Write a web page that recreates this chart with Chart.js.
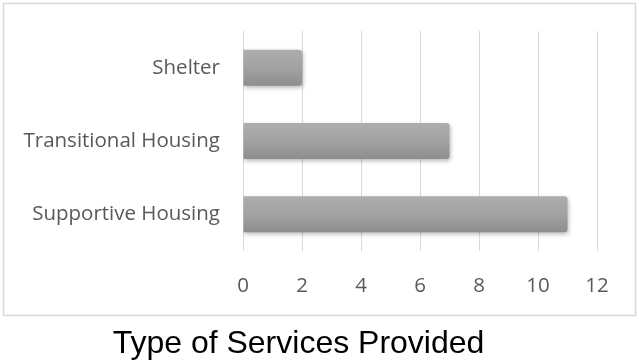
<!DOCTYPE html>
<html>
<head>
<meta charset="utf-8">
<title>Type of Services Provided</title>
<script src="https://cdn.jsdelivr.net/npm/chart.js@4.4.1/dist/chart.umd.min.js"></script>
<style>
  html, body { margin: 0; padding: 0; background: #fff; }
  #wrap { position: relative; width: 639px; height: 362px; }
</style>
</head>
<body>
<div id="wrap"><canvas id="servicesChart" width="639" height="362"></canvas></div>
<script>
// Services data
const categories = ['Shelter', 'Transitional Housing', 'Supportive Housing'];
const counts = [2, 7, 11];
const xTicks = [0, 2, 4, 6, 8, 10, 12];

// Frame around the plot (the title sits below it)
const framePlugin = {
    id: 'frame',
    beforeDraw(chart) {
        const ctx = chart.ctx;
        ctx.save();
        ctx.strokeStyle = '#d9d9d9';
        ctx.lineWidth = 1.5;
        ctx.strokeRect(3.5, 3.5, 632, 312);
        ctx.restore();
    }
};

// Soft drop shadow under the bars
const shadowPlugin = {
    id: 'barShadow',
    beforeDatasetsDraw(chart) {
        const ctx = chart.ctx;
        ctx.save();
        ctx.shadowColor = 'rgba(0,0,0,0.28)';
        ctx.shadowBlur = 4;
        ctx.shadowOffsetX = 1;
        ctx.shadowOffsetY = 2;
    },
    afterDatasetsDraw(chart) {
        chart.ctx.restore();
    }
};

// Vertical grey gradient across each bar
function barGradient(context) {
    const chart = context.chart;
    const yScale = chart.scales.y;
    if (!yScale || !chart.chartArea) return '#9c9c9c';
    const center = yScale.getPixelForValue(context.dataIndex);
    const step = Math.abs(yScale.getPixelForValue(1) - yScale.getPixelForValue(0));
    const h = step * 0.49 / 2;
    const g = chart.ctx.createLinearGradient(0, center - h, 0, center + h);
    g.addColorStop(0, '#adadad');
    g.addColorStop(0.5, '#a2a2a2');
    g.addColorStop(1, '#8e8e8e');
    return g;
}

const ctx = document.getElementById('servicesChart').getContext('2d');
new Chart(ctx, {
    type: 'bar',
    data: {
        labels: categories,
        datasets: [{
            data: counts,
            backgroundColor: barGradient,
            borderRadius: 3,
            categoryPercentage: 1,
            barPercentage: 0.49
        }]
    },
    options: {
        indexAxis: 'y',
        responsive: false,
        animation: false,
        layout: { padding: { top: 31, right: 42, left: 0, bottom: 0 } },
        plugins: {
            legend: { display: false },
            tooltip: { enabled: false },
            title: {
                display: true,
                text: 'Type of Services Provided',
                position: 'bottom',
                color: '#000',
                font: { family: 'Arial, "Liberation Sans", sans-serif', size: 32, weight: 'normal', lineHeight: 1 },
                padding: { top: 27, bottom: 2 }
            }
        },
        scales: {
            x: {
                min: 0,
                max: 12,
                afterBuildTicks(scale) {
                    scale.ticks = xTicks.map(v => ({ value: v }));
                },
                afterFit(scale) { scale.height = 50; },
                grid: { color: '#d9d9d9', lineWidth: 1, drawTicks: false },
                border: { display: false },
                ticks: {
                    color: '#595959',
                    padding: 23,
                    font: { family: '"Open Sans", sans-serif', size: 20.5 }
                }
            },
            y: {
                afterFit(scale) { scale.width = 243; },
                grid: { display: false },
                border: { display: false },
                ticks: {
                    color: '#595959',
                    padding: 15,
                    font: { family: '"Open Sans", sans-serif', size: 20.5 }
                }
            }
        }
    },
    plugins: [framePlugin, shadowPlugin]
});
</script>
</body>
</html>
